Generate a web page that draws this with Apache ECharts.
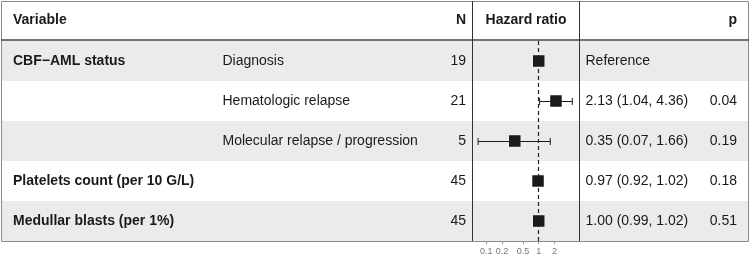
<!DOCTYPE html>
<html>
<head>
<meta charset="utf-8">
<script src="https://cdn.jsdelivr.net/npm/echarts@6/dist/echarts.min.js"></script>
<style>
  html, body { margin: 0; padding: 0; background: #fff; }
  #chart { width: 750px; height: 258px; }
</style>
</head>
<body>
<div id="chart"></div>
<script>
// table rows
const variables = ['CBF\u2212AML status', '', '', 'Platelets count (per 10 G/L)', 'Medullar blasts (per 1%)'];
const levels = ['Diagnosis', 'Hematologic relapse', 'Molecular relapse / progression', '', ''];
const counts = [19, 21, 5, 45, 45];
const hazardRatios = [1, 2.13, 0.35, 0.97, 1.00];
const ciLow = [null, 1.04, 0.07, 0.92, 0.99];
const ciHigh = [null, 4.36, 1.66, 1.02, 1.02];
const pValues = [null, 0.04, 0.19, 0.18, 0.51];
const tickValues = [0.1, 0.2, 0.5, 1, 2];
const hrRange = [0.0548, 5.98];
const headers = ['Variable', 'N', 'Hazard ratio', 'p'];

const FONT = '"Liberation Sans", Arial, Helvetica, sans-serif';
const TEXT = '#1a1a1a';
const log10 = v => Math.log10(v);
const rows = counts.map((_, i) => i);

function hrLabel(i) {
  if (ciLow[i] == null) return 'Reference';
  return hazardRatios[i].toFixed(2) + ' (' + ciLow[i].toFixed(2) + ', ' + ciHigh[i].toFixed(2) + ')';
}

function cellText(text, x, y, align, bold) {
  return {
    type: 'text',
    style: {
      text: text, x: x, y: y, align: align, verticalAlign: 'middle',
      font: (bold ? 'bold ' : '') + '14px ' + FONT, fill: TEXT
    }
  };
}

const chart = echarts.init(document.getElementById('chart'), null, { renderer: 'canvas' });

const option = {
  animation: false,
  grid: [
    { left: 1, top: 41, width: 747, height: 200 },
    { left: 472.5, top: 41, width: 107, height: 200 }
  ],
  xAxis: [
    { gridIndex: 0, type: 'value', min: 0, max: 1, show: false },
    {
      gridIndex: 1, type: 'value',
      min: log10(hrRange[0]), max: log10(hrRange[1]),
      axisLine: { show: false },
      splitLine: { show: false },
      axisTick: {
        show: true, length: 3, customValues: tickValues.map(log10),
        lineStyle: { color: '#999', width: 1 }
      },
      axisLabel: {
        customValues: tickValues.map(log10),
        margin: 6, fontSize: 9, fontFamily: FONT, color: '#777',
        formatter: v => {
          const t = tickValues.find(t => Math.abs(log10(t) - v) < 1e-6);
          return t == null ? '' : String(t);
        }
      }
    }
  ],
  yAxis: [
    { gridIndex: 0, type: 'category', data: rows, inverse: true, show: false },
    { gridIndex: 1, type: 'category', data: rows, inverse: true, show: false }
  ],
  series: [
    {
      type: 'custom',
      xAxisIndex: 0, yAxisIndex: 0, z: 1,
      data: rows.map(i => [0, i]),
      renderItem: (params, api) => {
        const i = api.value(1);
        const cs = params.coordSys;
        const y = api.coord([0, i])[1];
        const h = api.size([0, 1])[1];
        const children = [];
        if (i % 2 === 0) {
          children.push({
            type: 'rect',
            shape: { x: cs.x, y: y - h / 2, width: cs.width, height: h },
            style: { fill: '#EBEBEB' }
          });
        }
        children.push(cellText(variables[i], cs.x + 12, y, 'left', true));
        children.push(cellText(levels[i], cs.x + 221.5, y, 'left', false));
        children.push(cellText(String(counts[i]), cs.x + 465, y, 'right', false));
        children.push(cellText(hrLabel(i), cs.x + 584.5, y, 'left', false));
        if (pValues[i] != null) {
          children.push(cellText(pValues[i].toFixed(2), cs.x + 736, y, 'right', false));
        }
        return { type: 'group', children: children };
      }
    },
    {
      type: 'custom',
      xAxisIndex: 1, yAxisIndex: 1, z: 5,
      data: rows.map(i => [log10(hazardRatios[i]), i]),
      renderItem: (params, api) => {
        const i = api.value(1);
        const c = api.coord([api.value(0), i]);
        const yc = Math.round(c[1]) + 0.5;
        const children = [];
        if (ciLow[i] != null) {
          const a = api.coord([log10(ciLow[i]), i])[0];
          const b = api.coord([log10(ciHigh[i]), i])[0];
          const st = { stroke: '#1a1a1a', lineWidth: 1 };
          children.push({ type: 'line', shape: { x1: a, y1: yc, x2: b, y2: yc }, style: st });
          children.push({ type: 'line', shape: { x1: a, y1: yc - 3.5, x2: a, y2: yc + 3.5 }, style: st });
          children.push({ type: 'line', shape: { x1: b, y1: yc - 3.5, x2: b, y2: yc + 3.5 }, style: st });
        }
        const s = 11.5;
        children.push({
          type: 'rect',
          shape: { x: c[0] - s / 2, y: c[1] - s / 2, width: s, height: s },
          style: { fill: '#1a1a1a' }
        });
        return { type: 'group', children: children };
      },
      markLine: {
        silent: true,
        symbol: ['none', 'none'],
        label: { show: false },
        z: 3,
        lineStyle: { type: [4, 3], color: '#222', width: 1.2 },
        data: [{ xAxis: 0 }]
      }
    }
  ],
  graphic: [
    { type: 'rect', z: 100, shape: { x: 1.5, y: 1.5, width: 747, height: 240 },
      style: { fill: null, stroke: '#8c8c8c', lineWidth: 1 } },
    { type: 'line', z: 100, shape: { x1: 1, y1: 40, x2: 749, y2: 40 },
      style: { stroke: '#444', lineWidth: 1.5 } },
    { type: 'line', z: 100, shape: { x1: 472.5, y1: 1, x2: 472.5, y2: 241 },
      style: { stroke: '#333', lineWidth: 1 } },
    { type: 'line', z: 100, shape: { x1: 579.5, y1: 1, x2: 579.5, y2: 241 },
      style: { stroke: '#333', lineWidth: 1 } },
    Object.assign(cellText(headers[0], 13, 20.5, 'left', true), { z: 100 }),
    Object.assign(cellText(headers[1], 466, 20.5, 'right', true), { z: 100 }),
    Object.assign(cellText(headers[2], 526, 20.5, 'center', true), { z: 100 }),
    Object.assign(cellText(headers[3], 737, 20.5, 'right', true), { z: 100 })
  ]
};

chart.setOption(option);
</script>
</body>
</html>
